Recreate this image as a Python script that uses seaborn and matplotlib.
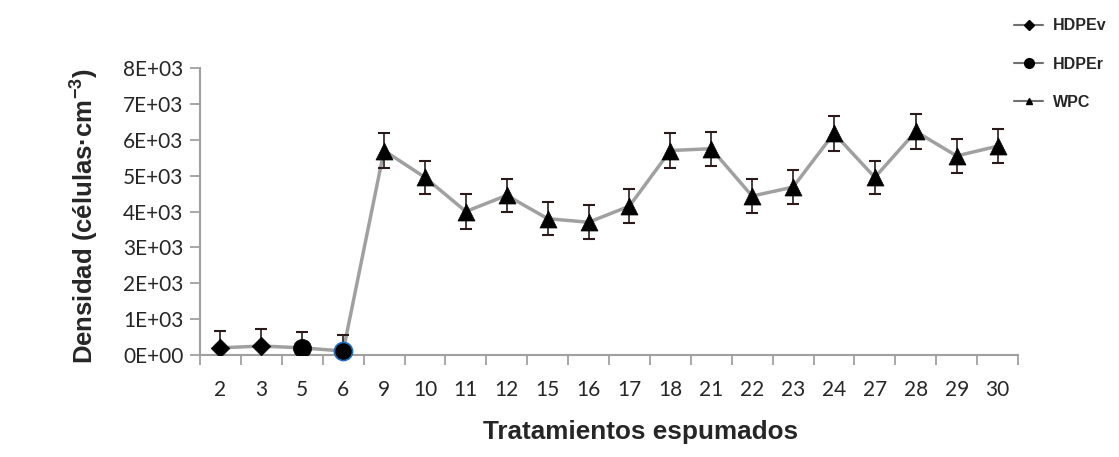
import numpy as np
import pandas as pd
import matplotlib
matplotlib.use('Agg')
import matplotlib.pyplot as plt
from matplotlib.lines import Line2D
import seaborn as sns

# datos
tratamientos = ['2', '3', '5', '6', '9', '10', '11', '12', '15', '16',
                '17', '18', '21', '22', '23', '24', '27', '28', '29', '30']
grupo = ['HDPEv', 'HDPEv', 'HDPEr', 'HDPEr'] + ['WPC'] * 16
densidad = [200, 250, 200, 110, 5700, 4950, 4000, 4450, 3800, 3700,
            4150, 5700, 5750, 4430, 4680, 6180, 4950, 6230, 5550, 5820]
error = [470, 470, 450, 450, 490, 470, 480, 460, 460, 470,
         470, 480, 470, 470, 470, 480, 470, 480, 480, 470]

sns.set_theme(style='white')
plt.rcParams['font.family'] = ['Liberation Sans', 'DejaVu Sans']
plt.rcParams['mathtext.fontset'] = 'custom'
plt.rcParams['mathtext.rm'] = 'Liberation Sans'
plt.rcParams['mathtext.bf'] = 'Liberation Sans:bold'

df = pd.DataFrame({'tratamiento': tratamientos, 'grupo': grupo,
                   'densidad': densidad, 'error': error})
df['pos'] = np.arange(len(df))

fig = plt.figure(figsize=(11.19, 4.57), dpi=100)
ax = fig.add_axes([200 / 1119, 1 - 355 / 457, 818 / 1119, 287 / 457])

# linea gris que une todos los tratamientos
sns.lineplot(data=df, x='pos', y='densidad', color='#A0A0A0', linewidth=2.5,
             ax=ax, zorder=1)

# barras de error (solo se ve la parte por encima de 0)
ax.errorbar(df['pos'], df['densidad'], yerr=df['error'], fmt='none',
            ecolor='#2a1a1a', elinewidth=1.2, capsize=4, capthick=1.5,
            zorder=2)

marcadores = {'HDPEv': 'D', 'HDPEr': 'o', 'WPC': '^'}
tamanos = {'HDPEv': 90, 'HDPEr': 170, 'WPC': 150}
for g, m in marcadores.items():
    sub = df[df['grupo'] == g]
    sns.scatterplot(data=sub, x='pos', y='densidad', marker=m, s=tamanos[g],
                    color='black', edgecolor='black', linewidth=0.5, ax=ax,
                    zorder=3)
# el tratamiento 6 tiene borde azul
ult = df[df['tratamiento'] == '6']
ax.scatter(ult['pos'], ult['densidad'], marker='o', s=170, color='black',
           edgecolors='#1f6fbf', linewidths=1.2, zorder=4, clip_on=False)

tick_font = {'family': ['Lato', 'DejaVu Sans'], 'size': 15}
ax.set_xlim(-0.5, len(df) - 0.5)
ax.set_ylim(0, 8000)
ax.set_yticks(np.arange(0, 8001, 1000))
ax.set_yticklabels([f'{int(v / 1000)}E+03' if v else '0E+00'
                    for v in np.arange(0, 8001, 1000)], fontdict=tick_font)
ax.set_xticks(df['pos'])
ax.set_xticklabels(df['tratamiento'], fontdict=tick_font)
ax.set_xticks(np.arange(-0.5, len(df), 1), minor=True)
ax.tick_params(axis='x', which='major', length=0, pad=18)
ax.tick_params(axis='x', which='minor', length=7, width=1.3, color='#A0A0A0',
               bottom=True, direction='out')
ax.tick_params(axis='y', length=7, width=1.3, color='#A0A0A0', left=True,
               direction='out', pad=5)

sns.despine(ax=ax)
for s in ['left', 'bottom']:
    ax.spines[s].set_color('#A0A0A0')
    ax.spines[s].set_linewidth(1.5)

ax.set_xlabel('Tratamientos espumados', fontsize=18.8, fontweight='bold')
ax.set_ylabel(r'Densidad (células·cm$^{\mathbf{-3}}$)', fontsize=18.5,
              fontweight='bold')
ax.xaxis.set_label_coords(0.538, -0.225)
ax.yaxis.set_label_coords(-0.122, 0.485)

handles = [
    Line2D([], [], color='#707070', marker='D', markersize=5,
           markerfacecolor='black', markeredgecolor='black', linewidth=1.5),
    Line2D([], [], color='#707070', marker='o', markersize=7,
           markerfacecolor='black', markeredgecolor='black', linewidth=1.5),
    Line2D([], [], color='#707070', marker='^', markersize=5,
           markerfacecolor='black', markeredgecolor='black', linewidth=1.5),
]
fig.legend(handles, ['HDPEv', 'HDPEr', 'WPC'], loc='upper left',
           bbox_to_anchor=(1000 / 1119, 1 - 4 / 457), frameon=False,
           prop={'weight': 'bold', 'size': 11.5}, handlelength=1.8,
           handletextpad=0.6, labelspacing=1.45)

fig.savefig('out.png', dpi=100)
